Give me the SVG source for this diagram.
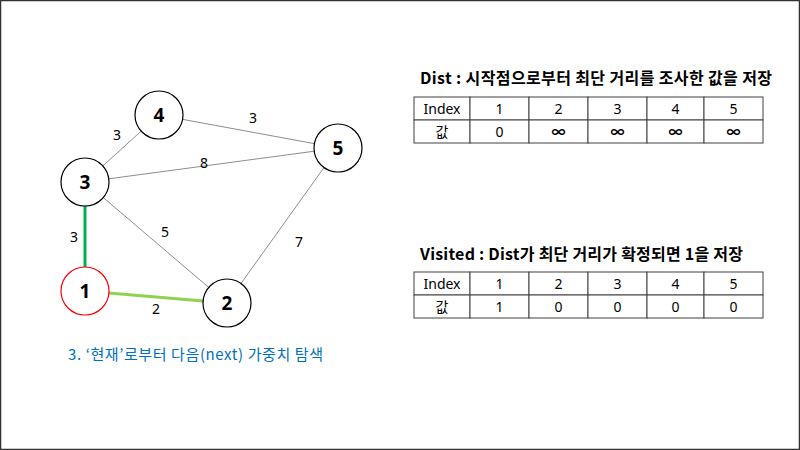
<svg xmlns="http://www.w3.org/2000/svg" width="800" height="450" viewBox="0 0 800 450">
<style>
.node circle{fill:#fff;stroke:#000;stroke-width:1.2}
.node text{font-family:"Noto Sans","Noto Sans CJK KR",sans-serif;font-weight:bold;font-size:19px;text-anchor:middle;fill:#000}
.edge{stroke:#808080;stroke-width:0.9}
.lbl{font-family:"Noto Sans","Noto Sans CJK KR",sans-serif;font-size:14px;text-anchor:middle;fill:#000}
.title{font-family:"Noto Sans CJK KR","Noto Sans",sans-serif;font-weight:bold;font-size:16px;fill:#000}
.cell{fill:#fff;stroke:#404040;stroke-width:1}
.ct{font-family:"Noto Sans","Noto Sans CJK KR",sans-serif;font-size:14px;text-anchor:middle;fill:#000}
.inf{font-weight:bold}
</style>
<rect x="0.5" y="0.5" width="799" height="449" fill="#fff" stroke="#333" stroke-width="1.5"/>
<g id="connectors">
<line class="edge" x1="85" y1="182" x2="159" y2="115"/>
<line class="edge" x1="159" y1="115" x2="338" y2="148"/>
<line class="edge" x1="85" y1="182" x2="338" y2="148"/>
<line class="edge" x1="85" y1="182" x2="227" y2="303"/>
<line class="edge" x1="338" y1="148" x2="227" y2="303"/>
<line x1="85" y1="182" x2="85" y2="291" stroke="#00B050" stroke-width="3"/>
<line x1="85" y1="291" x2="227" y2="303" stroke="#92D050" stroke-width="3"/>
<text class="lbl" x="117" y="140">3</text>
<text class="lbl" x="253" y="123">3</text>
<text class="lbl" x="204" y="168">8</text>
<text class="lbl" x="165" y="237">5</text>
<text class="lbl" x="299" y="247">7</text>
<text class="lbl" x="74" y="242">3</text>
<text class="lbl" x="156" y="314">2</text>
</g>
<g id="node4" class="node"><circle cx="159" cy="115" r="24"/><text x="159" y="122">4</text></g>
<g id="node5" class="node"><circle cx="338" cy="148" r="24"/><text x="338" y="155">5</text></g>
<g id="node3" class="node"><circle cx="85" cy="182" r="24"/><text x="85" y="189">3</text></g>
<g id="node1" class="node"><circle cx="85" cy="291" r="24" style="stroke:#FF0000"/><text x="85" y="298">1</text></g>
<g id="node2" class="node"><circle cx="227" cy="303" r="24"/><text x="227" y="310">2</text></g>
<text x="68" y="360" font-family="Noto Sans CJK KR, Noto Sans, sans-serif" font-size="15px" fill="#0070C0" textLength="255" lengthAdjust="spacing">3. ‘현재’로부터 다음(next) 가중치 탐색</text>
<g id="dist">
<text class="title" x="420" y="84" textLength="352" lengthAdjust="spacing">Dist : 시작점으로부터 최단 거리를 조사한 값을 저장</text>
<rect class="cell" x="414" y="97" width="56" height="23"/>
<rect class="cell" x="470" y="97" width="59" height="23"/>
<rect class="cell" x="529" y="97" width="59" height="23"/>
<rect class="cell" x="588" y="97" width="59" height="23"/>
<rect class="cell" x="647" y="97" width="57" height="23"/>
<rect class="cell" x="704" y="97" width="59" height="23"/>
<rect class="cell" x="414" y="120" width="56" height="23"/>
<rect class="cell" x="470" y="120" width="59" height="23"/>
<rect class="cell" x="529" y="120" width="59" height="23"/>
<rect class="cell" x="588" y="120" width="59" height="23"/>
<rect class="cell" x="647" y="120" width="57" height="23"/>
<rect class="cell" x="704" y="120" width="59" height="23"/>
<text class="ct" x="442" y="114">Index</text>
<text class="ct" x="499.5" y="114">1</text>
<text class="ct" x="558.5" y="114">2</text>
<text class="ct" x="617.5" y="114">3</text>
<text class="ct" x="675.5" y="114">4</text>
<text class="ct" x="733.5" y="114">5</text>
<text class="ct" x="442" y="137">값</text>
<text class="ct" x="499.5" y="137">0</text>
<text class="ct inf" x="558.5" y="137">∞</text>
<text class="ct inf" x="617.5" y="137">∞</text>
<text class="ct inf" x="675.5" y="137">∞</text>
<text class="ct inf" x="733.5" y="137">∞</text>
</g>
<g id="visited">
<text class="title" x="420" y="260" textLength="323" lengthAdjust="spacing">Visited : Dist가 최단 거리가 확정되면 1을 저장</text>
<rect class="cell" x="414" y="272" width="56" height="23"/>
<rect class="cell" x="470" y="272" width="59" height="23"/>
<rect class="cell" x="529" y="272" width="59" height="23"/>
<rect class="cell" x="588" y="272" width="59" height="23"/>
<rect class="cell" x="647" y="272" width="57" height="23"/>
<rect class="cell" x="704" y="272" width="59" height="23"/>
<rect class="cell" x="414" y="295" width="56" height="23"/>
<rect class="cell" x="470" y="295" width="59" height="23"/>
<rect class="cell" x="529" y="295" width="59" height="23"/>
<rect class="cell" x="588" y="295" width="59" height="23"/>
<rect class="cell" x="647" y="295" width="57" height="23"/>
<rect class="cell" x="704" y="295" width="59" height="23"/>
<text class="ct" x="442" y="289">Index</text>
<text class="ct" x="499.5" y="289">1</text>
<text class="ct" x="558.5" y="289">2</text>
<text class="ct" x="617.5" y="289">3</text>
<text class="ct" x="675.5" y="289">4</text>
<text class="ct" x="733.5" y="289">5</text>
<text class="ct" x="442" y="312">값</text>
<text class="ct" x="499.5" y="312">1</text>
<text class="ct" x="558.5" y="312">0</text>
<text class="ct" x="617.5" y="312">0</text>
<text class="ct" x="675.5" y="312">0</text>
<text class="ct" x="733.5" y="312">0</text>
</g>
</svg>
